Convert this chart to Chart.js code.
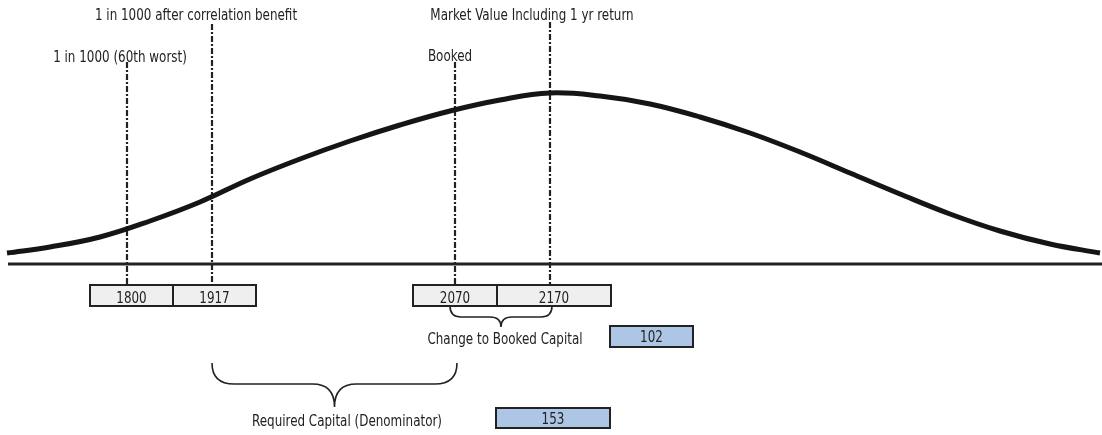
<!DOCTYPE html>
<html>
<head>
<meta charset="utf-8">
<script src="https://cdn.jsdelivr.net/npm/chart.js@4.4.1/dist/chart.umd.min.js"></script>
<style>
  html, body { margin: 0; padding: 0; background: #fff; }
  #c { display: block; }
</style>
</head>
<body>
<canvas id="c" width="1102" height="435"></canvas>
<script>
// ---- data (horizontal axis is the schematic position along the diagram) ----
const curveX = [7, 50, 100, 150, 200, 250, 300, 350, 400, 450, 500, 550, 600, 650, 700, 750, 800, 850, 900, 950, 1000, 1050, 1100];
const curveY = [11, 17, 27, 43, 62, 85, 105, 123, 139, 153, 164, 171, 168, 160, 147, 131, 112, 91, 70, 50, 33, 20, 11];

const markerLabels = ["1 in 1000 (60th worst)", "1 in 1000 after correlation benefit", "Booked", "Market Value Including 1 yr return"];
const markerValues = ["1800", "1917", "2070", "2170"];
const markerPos    = [127, 212, 455, 550];

const resultLabels = ["Change to Booked Capital", "Required Capital (Denominator)"];
const resultValues = ["102", "153"];

// ---- layout / styling ----
const INK = "#222";
const FONT = "15px 'Liberation Sans Narrow', 'Arial Narrow', 'DejaVu Sans Condensed', sans-serif";
const SQUEEZE = 0.885;                    // fake a condensed face
const labelX      = [120, 196, 450, 532];
const labelBase   = [62, 20, 61, 20];     // text baselines (px)
const lineTopH    = [202, 240, 202, 242]; // top of the dash-dot lines, in y units
const BOX_BOTTOM_H = -21;                 // box top edge, in y units
const boxEdges    = [[90, 173], [173, 256], [413, 497], [497, 611]];
const BOX_ROW     = { top: 285, bottom: 306, base: 303 };
const results = [
  { x1: 450, x2: 552, top: 306, mid: 317, tip: 327, r: 11, labelX: 505, base: 344, box: [610, 693, 326, 347] },
  { x1: 212, x2: 457, top: 363, mid: 384, tip: 407, r: 22, labelX: 347, base: 426, box: [496, 610, 408, 428] },
];

const datasets = [
  {
    data: curveX.map((x, i) => ({ x, y: curveY[i] })),
    borderColor: "#151515",
    borderWidth: 5,
    tension: 0.4,
    pointRadius: 0,
  },
  {
    data: [{ x: 8, y: 0 }, { x: 1102, y: 0 }],
    borderColor: INK,
    borderWidth: 3,
    pointRadius: 0,
  },
];
markerPos.forEach((p, i) => {
  datasets.push({
    data: [{ x: p, y: lineTopH[i] }, { x: p, y: BOX_BOTTOM_H }],
    borderColor: INK,
    borderWidth: 2.2,
    borderDash: [6, 2, 2, 2],
    pointRadius: 0,
  });
});

function text(ctx, str, cx, base) {
  ctx.save();
  ctx.translate(cx, base);
  ctx.scale(SQUEEZE, 1);
  ctx.fillText(str, 0, 0);
  ctx.restore();
}

const annotate = {
  id: "annotate",
  afterDatasetsDraw(chart) {
    const { ctx } = chart;
    const xs = chart.scales.x;
    const px = v => xs.getPixelForValue(v);

    ctx.save();
    ctx.font = FONT;
    ctx.fillStyle = INK;
    ctx.textAlign = "center";
    ctx.textBaseline = "alphabetic";

    markerLabels.forEach((t, i) => text(ctx, t, px(labelX[i]), labelBase[i]));

    // value boxes under the axis
    boxEdges.forEach(([a, b], i) => {
      const x1 = px(a), x2 = px(b);
      ctx.fillStyle = "#efefef";
      ctx.fillRect(x1, BOX_ROW.top, x2 - x1, BOX_ROW.bottom - BOX_ROW.top);
      ctx.strokeStyle = INK;
      ctx.lineWidth = 2;
      ctx.strokeRect(x1, BOX_ROW.top, x2 - x1, BOX_ROW.bottom - BOX_ROW.top);
      ctx.fillStyle = INK;
      text(ctx, markerValues[i], (x1 + x2) / 2, BOX_ROW.base);
    });

    // braces + result boxes
    results.forEach((r, i) => {
      const x1 = px(r.x1), x2 = px(r.x2), xm = (x1 + x2) / 2;
      ctx.strokeStyle = INK;
      ctx.lineWidth = 1.6;
      ctx.beginPath();
      ctx.moveTo(x1, r.top);
      ctx.quadraticCurveTo(x1, r.mid, x1 + r.r, r.mid);
      ctx.lineTo(xm - r.r, r.mid);
      ctx.quadraticCurveTo(xm, r.mid, xm, r.tip);
      ctx.moveTo(x2, r.top);
      ctx.quadraticCurveTo(x2, r.mid, x2 - r.r, r.mid);
      ctx.lineTo(xm + r.r, r.mid);
      ctx.quadraticCurveTo(xm, r.mid, xm, r.tip);
      ctx.stroke();

      ctx.fillStyle = INK;
      text(ctx, resultLabels[i], px(r.labelX), r.base);

      const [bx1, bx2, by1, by2] = r.box;
      ctx.fillStyle = "#adc6e6";
      ctx.fillRect(px(bx1), by1, px(bx2) - px(bx1), by2 - by1);
      ctx.lineWidth = 2;
      ctx.strokeRect(px(bx1), by1, px(bx2) - px(bx1), by2 - by1);
      ctx.fillStyle = INK;
      text(ctx, resultValues[i], (px(bx1) + px(bx2)) / 2, r.base - 2);
    });
    ctx.restore();
  },
};

new Chart(document.getElementById("c"), {
  type: "line",
  data: { datasets },
  options: {
    responsive: false,
    animation: false,
    layout: { padding: 0 },
    plugins: { legend: { display: false }, tooltip: { enabled: false } },
    scales: {
      x: { type: "linear", min: 0, max: 1102, display: false },
      y: { min: -171, max: 264, display: false },
    },
  },
  plugins: [annotate],
});
</script>
</body>
</html>
